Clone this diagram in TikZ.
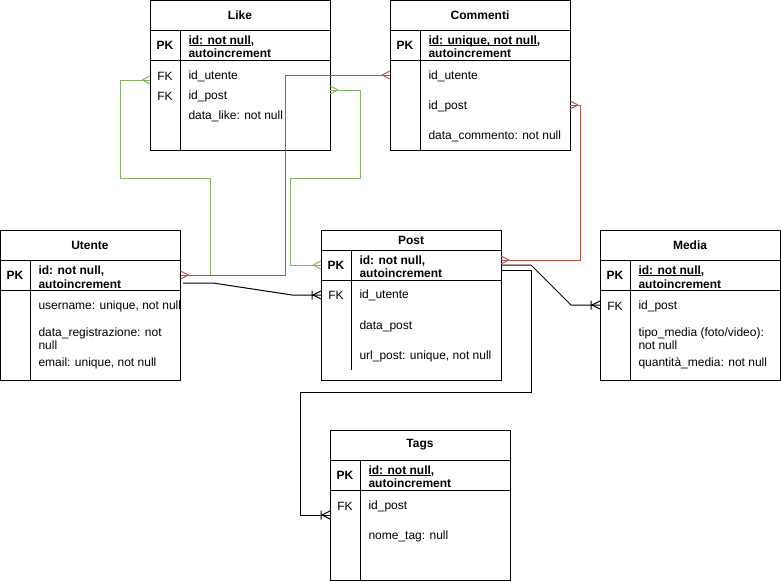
\documentclass[tikz,border=0pt]{standalone}
\usepackage{fontspec}
\setmainfont{Liberation Sans}
\definecolor{ergreen}{HTML}{82B366}
\definecolor{erred}{HTML}{B85450}
\newcommand{\erfont}{\fontsize{12}{13.5}\selectfont}
\newcommand{\erul}[1]{\begingroup\setbox0\hbox{#1}\rlap{\rule[-1.8pt]{\wd0}{0.9pt}}\box0\endgroup}
\begin{document}
\begin{tikzpicture}[x=1pt,y=-1pt,line width=1pt,
  tbl/.style={draw,anchor=north west,inner sep=0,outer sep=0},
  ttl/.style={font=\erfont\bfseries,inner sep=0},
  keyl/.style={font=\erfont\bfseries,inner sep=0},
  fkl/.style={font=\erfont,inner sep=0,yshift=-1pt},
  attr/.style={font=\erfont,anchor=west,inner sep=0,align=left,yshift=-1pt},
  pkattr/.style={font=\erfont\bfseries,anchor=west,inner sep=0,align=left},
  crowfoot/.pic={\draw (-8,0) -- (0,-4) (-8,0) -- (0,4);},
  onemany/.pic={\draw (-8,0) -- (0,-4) (-8,0) -- (0,4) (-9,-4.5) -- (-9,4.5);}
]
\useasboundingbox (0,0) rectangle (781,581);

% ---------- Like ----------
\node[tbl,minimum width=180pt,minimum height=149.5pt] (like) at (150,0.5) {};
\draw (150,30) -- (330,30) (150,60) -- (330,60) (180,30) -- (180,150);
\node[ttl] (like-t) at (240,15) {Like};
\node[keyl] (like-pk) at (165,45) {PK};
\node[pkattr] (like-id) at (188,46.5) {\erul{id: not null},\\autoincrement};
\node[fkl] (like-fk1) at (165,75) {FK};
\node[attr] (like-a1) at (188,75) {id\_utente};
\node[fkl] (like-fk2) at (165,95) {FK};
\node[attr] (like-a2) at (188,95) {id\_post};
\node[attr] (like-a3) at (188,115) {data\_like: not null};

% ---------- Commenti ----------
\node[tbl,minimum width=180pt,minimum height=149.5pt] (com) at (390,0.5) {};
\draw (390,30) -- (570,30) (390,60) -- (570,60) (420,30) -- (420,150);
\node[ttl] (com-t) at (480,15) {Commenti};
\node[keyl] (com-pk) at (405,45) {PK};
\node[pkattr] (com-id) at (428,46.5) {\erul{id: unique, not null},\\autoincrement};
\node[attr] (com-a1) at (428,75) {id\_utente};
\node[attr] (com-a2) at (428,105) {id\_post};
\node[attr] (com-a3) at (428,135) {data\_commento: not null};

% ---------- Utente ----------
\node[tbl,minimum width=180pt,minimum height=150pt] (ut) at (0.5,230) {};
\draw (0.5,260) -- (180.5,260) (0.5,290) -- (180.5,290) (30,260) -- (30,380);
\node[ttl] (ut-t) at (90,245) {Utente};
\node[keyl] (ut-pk) at (15,275) {PK};
\node[pkattr] (ut-id) at (38,277) {id: not null,\\autoincrement};
\node[attr] (ut-a1) at (38,305) {username: unique, not null};
\node[attr] (ut-a2) at (38,337.5) {data\_registrazione: not\\null};
\node[attr] (ut-a3) at (38,362) {email: unique, not null};

% ---------- Post ----------
\node[tbl,minimum width=180pt,minimum height=150pt] (post) at (321,230) {};
\draw (321,250) -- (501,250) (321,280) -- (501,280) (351,250) -- (351,370);
\node[ttl] (post-t) at (411,240) {Post};
\node[keyl] (post-pk) at (336,265) {PK};
\node[pkattr] (post-id) at (359,266.5) {id: not null,\\autoincrement};
\node[fkl] (post-fk) at (336,294) {FK};
\node[attr] (post-a1) at (359,294) {id\_utente};
\node[attr] (post-a2) at (359,325) {data\_post};
\node[attr] (post-a3) at (359,355) {url\_post: unique, not null};

% ---------- Media ----------
\node[tbl,minimum width=180pt,minimum height=150pt] (media) at (600,230) {};
\draw (600,260) -- (780,260) (600,290) -- (780,290) (630,260) -- (630,380);
\node[ttl] (media-t) at (690,245) {Media};
\node[keyl] (media-pk) at (615,275) {PK};
\node[pkattr] (media-id) at (638,277) {\erul{id: not null},\\autoincrement};
\node[fkl] (media-fk) at (615,305) {FK};
\node[attr] (media-a1) at (638,305) {id\_post};
\node[attr] (media-a2) at (638,337.5) {tipo\_media (foto/video):\\not null};
\node[attr] (media-a3) at (638,362) {quantità\_media: not null};

% ---------- Tags ----------
\node[tbl,minimum width=180pt,minimum height=150pt] (tags) at (330,430) {};
\draw (330,460) -- (510,460) (330,490) -- (510,490) (360,460) -- (360,580);
\node[ttl] (tags-t) at (420,445) {Tags};
\node[keyl] (tags-pk) at (345,475) {PK};
\node[pkattr] (tags-id) at (368,476.5) {\erul{id: not null},\\autoincrement};
\node[fkl] (tags-fk) at (345,505) {FK};
\node[attr] (tags-a1) at (368,505) {id\_post};
\node[attr] (tags-a2) at (368,535) {nome\_tag: null};

% ---------- connector end points ----------
\coordinate (ut-r1) at (180.5,275);
\coordinate (ut-r2) at (183,283);
\coordinate (like-l1) at (150,80);
\coordinate (like-r2) at (330,90);
\coordinate (com-l1) at (390,75);
\coordinate (com-r2) at (570,105);
\coordinate (post-l1) at (321,265);
\coordinate (post-l2) at (321,295);
\coordinate (post-r1) at (501,260);
\coordinate (post-r2) at (501,265);
\coordinate (post-r3) at (501,270);
\coordinate (media-l) at (600,305);
\coordinate (tags-l) at (330,515);

% ---------- green connectors ----------
\draw[ergreen] (ut-r1) -| (210,178) -| (120,80) -- (like-l1);
\draw[ergreen] (like-r2) -| (360,178) -| (290,265) -- (post-l1);
\pic[ergreen] at (like-l1) {crowfoot};
\pic[ergreen,rotate=180] at (like-r2) {crowfoot};
\pic[ergreen] at (post-l1) {crowfoot};

% ---------- red connectors ----------
\draw[erred] (ut-r1) -| (285,75) -- (com-l1);
\draw[erred] (com-r2) -| (580,260) -- (post-r1);
\pic[erred,rotate=180] at (ut-r1) {crowfoot};
\pic[erred] at (com-l1) {crowfoot};
\pic[erred,rotate=180] at (com-r2) {crowfoot};
\pic[erred,rotate=180] at (post-r1) {crowfoot};

% ---------- black connectors ----------
\draw (ut-r2) -- (213,283) -- (292,295) -- (post-l2);
\draw (post-r2) -- (531,265) -- (571,305) -- (media-l);
\draw (post-r3) -| (531,392) -| (300,515) -- (tags-l);
\pic at (post-l2) {onemany};
\pic at (media-l) {onemany};
\pic at (tags-l) {onemany};
\end{tikzpicture}
\end{document}
